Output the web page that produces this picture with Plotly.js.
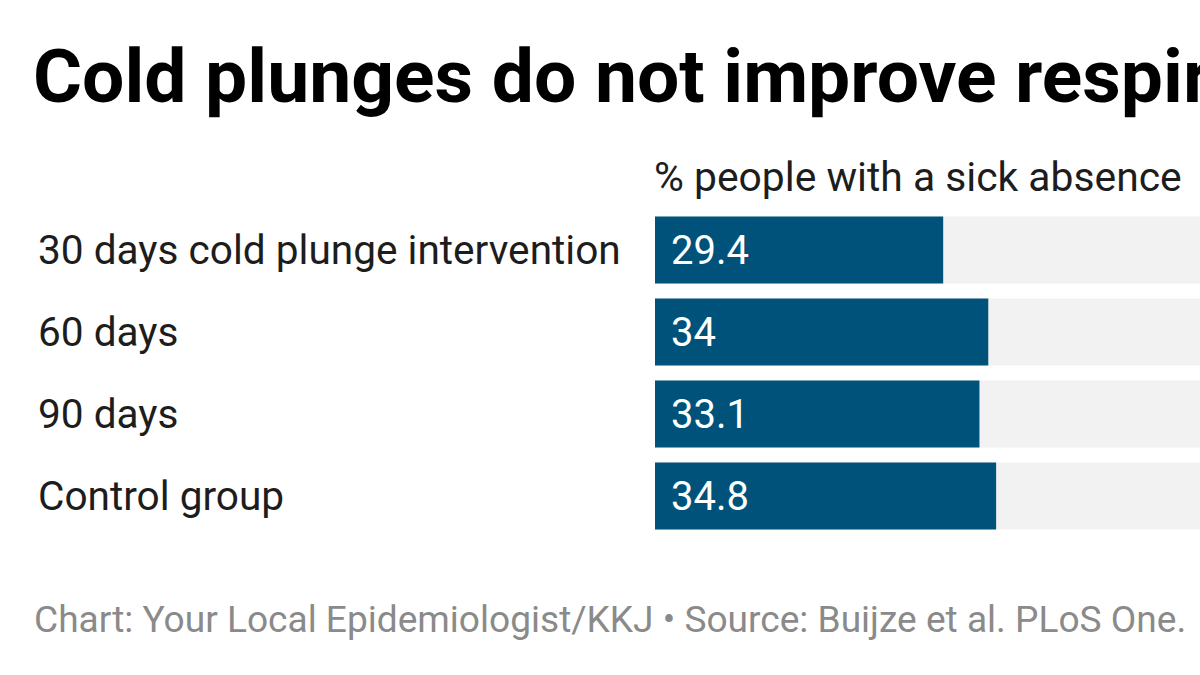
<!DOCTYPE html>
<html>
<head>
<meta charset="utf-8">
<script src="https://cdn.plot.ly/plotly-3.0.1.min.js"></script>
<style>html,body{margin:0;padding:0;background:#fff;}#chart{width:1200px;height:675px;}</style>
</head>
<body>
<div id="chart"></div>
<script>
const categories = ["30 days cold plunge intervention", "60 days", "90 days", "Control group"];
const values = [29.4, 34, 33.1, 34.8];
const fullScale = [100, 100, 100, 100];
const titleText = "Cold plunges do not improve respiratory infections";
const subtitleText = "% people with a sick absence";
const footerText = "Chart: Your Local Epidemiologist/KKJ \u2022 Source: Buijze et al. PLoS One.";

const FONT = "Roboto, 'Noto Sans', sans-serif";

const traces = [
  {type: "bar", orientation: "h", y: categories, x: fullScale, marker: {color: "#f2f2f2"}, hoverinfo: "skip", showlegend: false},
  {type: "bar", orientation: "h", y: categories, x: values, marker: {color: "#00527a"}, showlegend: false}
];

const annotations = [];
categories.forEach((c, i) => {
  annotations.push({xref: "paper", yref: "y", x: -619/545, y: c, text: c, showarrow: false,
    xanchor: "left", yanchor: "middle", font: {family: FONT, size: 40.6, color: "#1d1d1d"}});
  annotations.push({xref: "x", yref: "y", x: 0, y: c, text: String(values[i]), showarrow: false,
    xanchor: "left", yanchor: "middle", xshift: 14, font: {family: FONT, size: 40, color: "#ffffff"}});
});
annotations.push({xref: "paper", yref: "paper", x: -3/545, y: (537 - 177) / 328, text: subtitleText, showarrow: false,
  xanchor: "left", yanchor: "middle", font: {family: FONT, size: 40.8, color: "#1d1d1d"}});
annotations.push({xref: "paper", yref: "paper", x: -623/545, y: (537 - 619) / 328, text: footerText, showarrow: false,
  xanchor: "left", yanchor: "middle", font: {family: FONT, size: 37.1, color: "#8a8a8a"}});

const layout = {
  width: 1200, height: 675,
  margin: {l: 655, r: 0, t: 209, b: 138, pad: 0},
  paper_bgcolor: "#ffffff", plot_bgcolor: "#ffffff",
  barmode: "overlay", bargap: 0.183,
  title: {text: "<b>" + titleText + "</b>", xref: "container", yref: "container", x: 33/1200, xanchor: "left",
    y: 1 - 76/675, yanchor: "middle", font: {family: FONT, size: 75, color: "#000000"}},
  xaxis: {range: [0, 55.6], showgrid: false, zeroline: false, showticklabels: false, ticks: "", fixedrange: true},
  yaxis: {autorange: "reversed", showgrid: false, zeroline: false, showticklabels: false, ticks: "", fixedrange: true},
  annotations: annotations
};

Plotly.newPlot("chart", traces, layout, {displayModeBar: false, staticPlot: true});
</script>
</body>
</html>
